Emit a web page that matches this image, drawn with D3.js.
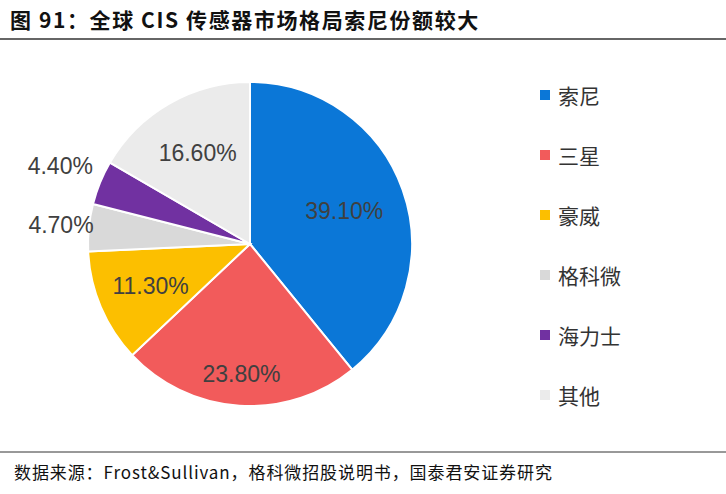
<!DOCTYPE html>
<html><head><meta charset="utf-8">
<script src="https://cdn.jsdelivr.net/npm/d3@7"></script>
<style>body{margin:0;background:#fff}</style></head>
<body><svg id="c" width="726" height="494"></svg>
<script>
const categories=["索尼","三星","豪威","格科微","海力士","其他"];
const values=[39.1,23.8,11.3,4.7,4.4,16.6];
const labels=["39.10%","23.80%","11.30%","4.70%","4.40%","16.60%"];
const colors=["#0b77d7","#f25b5b","#fcbf00","#d9d9d9","#7131a1","#ebebeb"];
const labelR=[100,130,108,190,205,105];
const svg=d3.select("#c");
const font="'Noto Sans CJK SC',sans-serif";
svg.append("text").attr("x",10).attr("y",28).attr("font-family",font).attr("font-weight","bold").attr("font-size",21).attr("letter-spacing",1.6).attr("fill","#111").text("图 91：全球 CIS 传感器市场格局索尼份额较大");
svg.append("line").attr("x1",0).attr("x2",726).attr("y1",39).attr("y2",39).attr("stroke","#333").attr("stroke-width",1.5);
svg.append("line").attr("x1",0).attr("x2",726).attr("y1",452).attr("y2",452).attr("stroke","#333").attr("stroke-width",1);
svg.append("text").attr("x",14).attr("y",479).attr("font-family","'Noto Sans CJK SC',serif").attr("font-size",17).attr("letter-spacing",0.9).attr("fill","#111").text("数据来源：Frost&Sullivan，格科微招股说明书，国泰君安证券研究");
const cx=250,cy=244,r=162;
const pie=d3.pie().sort(null).value(d=>d)(values);
const arc=d3.arc().innerRadius(0).outerRadius(r);
const g=svg.append("g").attr("transform",`translate(${cx},${cy})`);
g.selectAll("path").data(pie).join("path").attr("d",arc).attr("fill",(d,i)=>colors[i]).attr("stroke","#fff").attr("stroke-width",2);
g.selectAll("text").data(pie).join("text").each(function(d,i){
  const a=(d.startAngle+d.endAngle)/2;
  d3.select(this).attr("x",Math.sin(a)*labelR[i]).attr("y",-Math.cos(a)*labelR[i]);
}).attr("text-anchor","middle").attr("dominant-baseline","central").attr("font-family","'Liberation Sans',Arial,sans-serif").attr("font-size",23).attr("fill","#404040").text((d,i)=>labels[i]);
const y=d3.scalePoint().domain(categories).range([95,395]);
const lg=svg.append("g");
categories.forEach((c,i)=>{
  lg.append("rect").attr("x",540).attr("y",y(c)-5).attr("width",10).attr("height",10).attr("fill",colors[i]);
  lg.append("text").attr("x",558).attr("y",y(c)).attr("dominant-baseline","central").attr("font-family",font).attr("font-size",21).attr("fill","#333").text(c);
});
</script></body></html>
